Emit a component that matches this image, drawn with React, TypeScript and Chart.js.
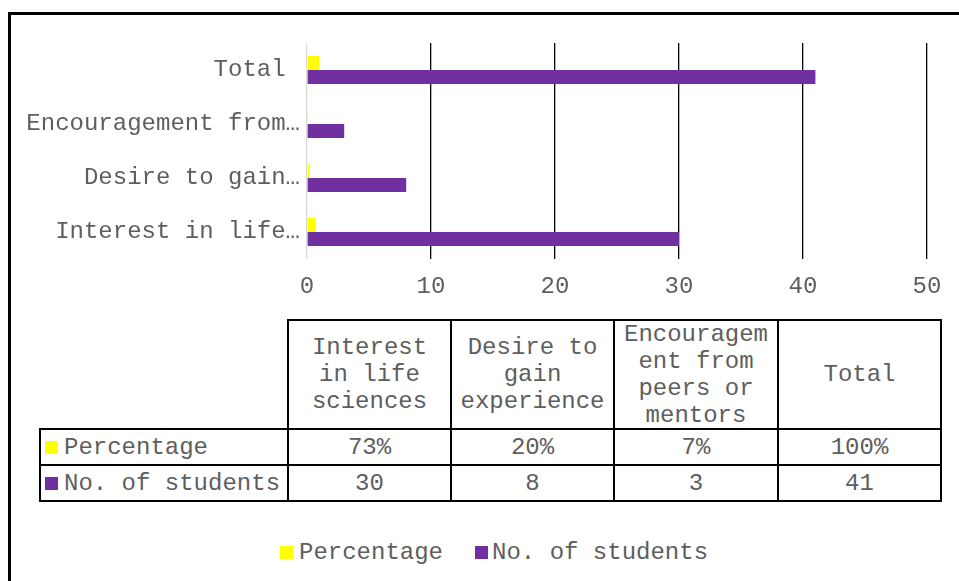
import React, { useEffect, useRef } from "react";
import { Chart, registerables } from "chart.js";

Chart.register(...registerables);

// ---- data ----
const categories = [
  "Interest in life sciences",
  "Desire to gain experience",
  "Encouragement from peers or mentors",
  "Total",
];
const axisLabels = ["Interest in life…", "Desire to gain…", "Encouragement from…", "Total "];
const seriesNames = ["Percentage", "No. of students"];
const percentageValues = [0.73, 0.2, 0.07, 1.0];
const studentCounts = [30, 8, 3, 41];
const xMin = 0;
const xMax = 50;
const xStep = 10;

// ---- styles ----
const FONT = "'Liberation Mono', 'Courier New', monospace";
const TEXT = "#5e5e5e";
const YELLOW = "#FFFF00";
const PURPLE = "#7030A0";

const colEdges = [40, 288, 451, 614, 778, 941];
const rowEdges = [320, 429, 465, 501];

function Cell(props: { x0: number; x1: number; y0: number; y1: number; children?: React.ReactNode; align?: string }) {
  const { x0, x1, y0, y1, children, align } = props;
  return (
    <div
      style={{
        position: "absolute",
        left: x0 - 1,
        top: y0 - 1,
        width: x1 - x0 + 2,
        height: y1 - y0 + 2,
        boxSizing: "border-box",
        border: "2px solid #000",
        display: "flex",
        alignItems: "center",
        justifyContent: align === "left" ? "flex-start" : "center",
        textAlign: "center",
        lineHeight: "27px",
        padding: "0 4px",
        overflowWrap: "anywhere",
      }}
    >
      {children}
    </div>
  );
}

function Swatch(props: { color: string; gap: number }) {
  return (
    <span
      style={{
        display: "inline-block",
        width: 13,
        height: 13,
        background: props.color,
        marginRight: props.gap,
        flex: "none",
      }}
    />
  );
}

export default function App() {
  const ref = useRef<HTMLCanvasElement>(null);

  useEffect(() => {
    const font = { family: FONT, size: 24 };
    const chart = new Chart(ref.current!, {
      type: "bar",
      data: {
        labels: axisLabels,
        datasets: [
          { label: seriesNames[0], data: percentageValues, backgroundColor: YELLOW, borderWidth: 0 },
          { label: seriesNames[1], data: studentCounts, backgroundColor: PURPLE, borderWidth: 0 },
        ],
      },
      options: {
        indexAxis: "y",
        responsive: false,
        animation: false,
        layout: { padding: { top: 28, right: 25, left: 0, bottom: 0 } },
        datasets: { bar: { categoryPercentage: 0.52, barPercentage: 1 } },
        plugins: { legend: { display: false }, tooltip: { enabled: false } },
        scales: {
          x: {
            min: xMin,
            max: xMax,
            ticks: { stepSize: xStep, font, color: TEXT, padding: 13, maxRotation: 0 },
            grid: {
              color: (ctx: any) => (ctx.tick && ctx.tick.value === 0 ? "#d9d9d9" : "#000000"),
              lineWidth: 1.3,
              drawTicks: false,
            },
            border: { display: false },
            afterFit: (s: any) => {
              s.height = 56;
              s.paddingLeft = 0;
              s.paddingRight = 0;
            },
          },
          y: {
            reverse: true,
            ticks: { font, color: TEXT, padding: 7 },
            grid: { display: false, drawTicks: false },
            border: { display: false },
            afterFit: (s: any) => {
              s.width = 295;
              s.paddingTop = 0;
              s.paddingBottom = 0;
            },
          },
        },
      } as any,
    });
    return () => chart.destroy();
  }, []);

  const rows = [
    { name: seriesNames[0], color: YELLOW, values: percentageValues.map((v) => Math.round(v * 100) + "%") },
    { name: seriesNames[1], color: PURPLE, values: studentCounts.map((v) => String(v)) },
  ];

  return (
    <div
      style={{
        position: "fixed",
        left: 0,
        top: 0,
        width: 959,
        height: 581,
        overflow: "hidden",
        fontFamily: FONT,
        fontSize: 24,
        color: TEXT,
        background: "#fff",
      }}
    >
      <div
        style={{
          position: "absolute",
          left: 8,
          top: 12,
          width: 1100,
          height: 800,
          border: "3px solid #000",
          boxSizing: "border-box",
        }}
      />
      <canvas
        ref={ref}
        width={940}
        height={300}
        style={{ position: "absolute", left: 12, top: 15, width: 940, height: 300 }}
      />
      {categories.map((c, i) => (
        <Cell key={"h" + i} x0={colEdges[i + 1]} x1={colEdges[i + 2]} y0={rowEdges[0]} y1={rowEdges[1]}>
          {c}
        </Cell>
      ))}
      {rows.map((r, ri) => (
        <React.Fragment key={"r" + ri}>
          <Cell x0={colEdges[0]} x1={colEdges[1]} y0={rowEdges[ri + 1]} y1={rowEdges[ri + 2]} align="left">
            <Swatch color={r.color} gap={6} />
            <span style={{ whiteSpace: "pre" }}>{r.name}</span>
          </Cell>
          {r.values.map((v, ci) => (
            <Cell key={ci} x0={colEdges[ci + 1]} x1={colEdges[ci + 2]} y0={rowEdges[ri + 1]} y1={rowEdges[ri + 2]}>
              {v}
            </Cell>
          ))}
        </React.Fragment>
      ))}
      <div
        style={{
          position: "absolute",
          left: 280,
          top: 538,
          height: 29,
          display: "flex",
          alignItems: "center",
          whiteSpace: "pre",
        }}
      >
        <Swatch color={YELLOW} gap={6} />
        <span style={{ marginRight: 32 }}>{seriesNames[0]}</span>
        <Swatch color={PURPLE} gap={4} />
        <span>{seriesNames[1]}</span>
      </div>
    </div>
  );
}
